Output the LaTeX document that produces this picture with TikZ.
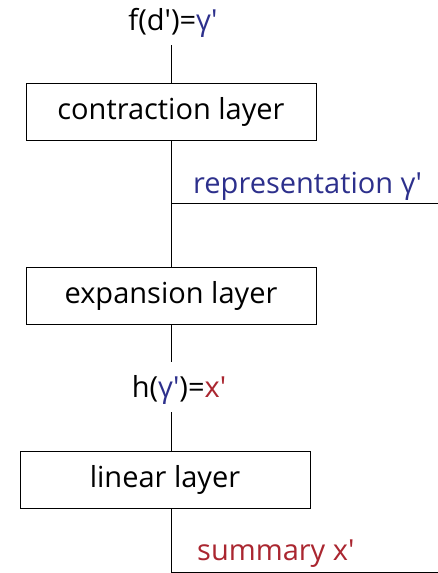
\documentclass[tikz,border=0pt]{standalone}
\usepackage{fontspec}
\setmainfont{Open Sans}
\usepackage{tikz}
\usetikzlibrary{positioning,calc}
\definecolor{repblue}{RGB}{45,48,140}
\definecolor{sumred}{RGB}{170,38,48}
\tikzset{
  layer/.style={draw,thick,minimum width=290pt,minimum height=57pt,inner sep=0pt,font=\fontsize{29}{32}\selectfont},
  txt/.style={inner sep=0pt,font=\fontsize{29}{32}\selectfont},
  wire/.style={thick},
}
\begin{document}
\begin{tikzpicture}[x=1pt,y=-1pt]
 \useasboundingbox (0,0) rectangle (438,573);
 \node[layer] (ctr) at (171,111.5){contraction layer};
 \node[layer] (exp) at (171,295.5){expansion layer};
 \node[layer] (lin) at (165,479.5){linear layer};
 \node[txt,anchor=base] (flab) at (173,30){f(d′)=\textcolor{repblue}{γ′}};
 \node[txt,anchor=base] (hlab) at (179,397){h(\textcolor{repblue}{γ′})=\textcolor{sumred}{x′}};
 \node[txt,anchor=base west,repblue] (rlab) at (193,193){representation γ′};
 \node[txt,anchor=base west,sumred] (slab) at (197,560){summary x′};
 \coordinate (ftop) at (171,45); \coordinate (hbot) at (171,362); \coordinate (htop) at (171,412);
 \coordinate (rend) at (438,203); \coordinate (send) at (438,572);
 \draw[wire](ftop)--(ctr.north-|ftop);
 \draw[wire](ctr.south)--(exp.north);
 \draw[wire](ctr.south|-rend)--(rend);
 \draw[wire](exp.south)--(hbot);
 \draw[wire](htop)--(lin.north-|htop);
 \draw[wire](lin.south-|htop)--(htop|-send)--(send);
\end{tikzpicture}
\end{document}
